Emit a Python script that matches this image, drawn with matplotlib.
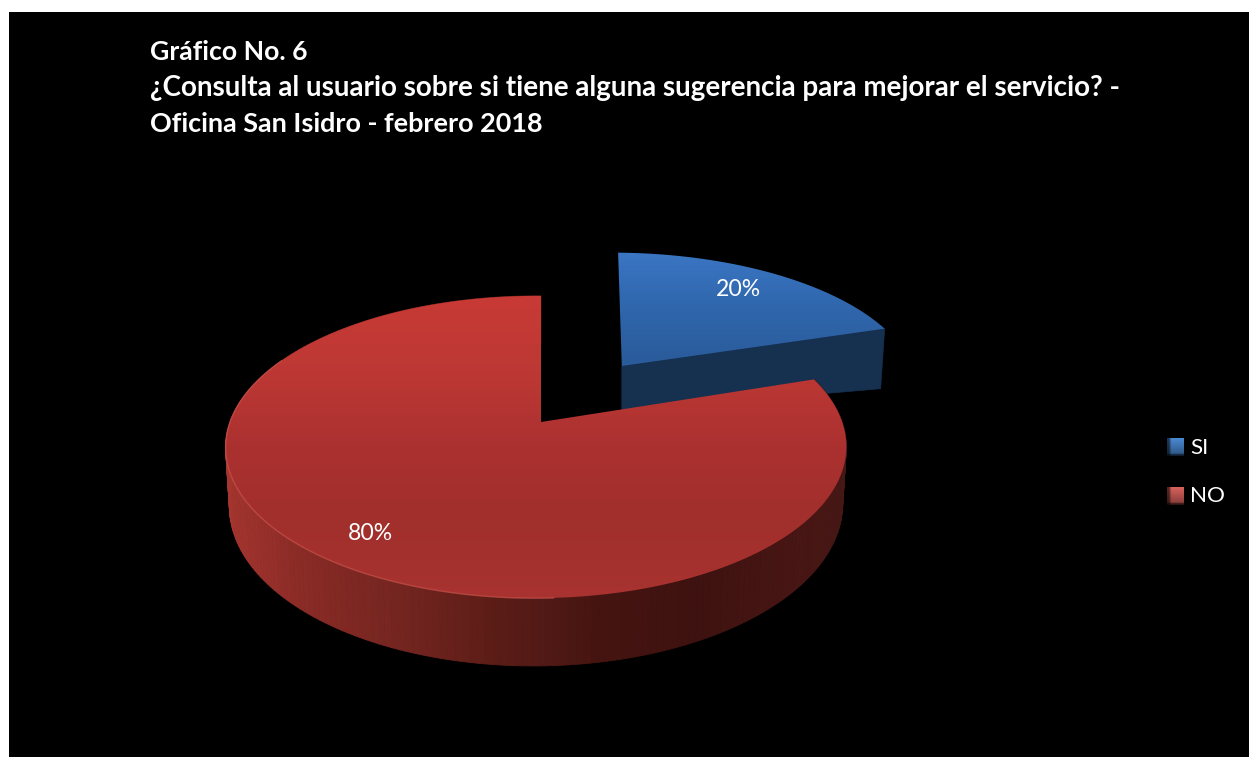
import numpy as np
import matplotlib
matplotlib.use("Agg")
import matplotlib.pyplot as plt
from matplotlib.colors import LinearSegmentedColormap, to_rgb
from matplotlib.patches import Polygon, Rectangle

categories = ["SI", "NO"]
shares = [20, 80]
title_lines = [
    "Gráfico No. 6",
    "¿Consulta al usuario sobre si tiene alguna sugerencia para mejorar el servicio? -",
    "Oficina San Isidro - febrero 2018",
]

plt.rcParams["font.family"] = ["Lato", "DejaVu Sans"]

W, H = 1249, 757
fig = plt.figure(figsize=(W / 100, H / 100), dpi=100, facecolor="white")
ax = fig.add_axes([0, 0, 1, 1])
ax.set_xlim(0, W)
ax.set_ylim(H, 0)
ax.axis("off")
ax.add_patch(Rectangle((9, 12), W, H, facecolor="black", edgecolor="none", zorder=0))

# Perspective camera for the disc: plane point (px, py), py grows away from the viewer.
APEX_X, APEX_Y = 541.0, 422.0
SCALE_X, SCALE_Y = 306.0, 147.0
TILT_Y, TILT_X = 0.1656, 0.016
THICKNESS = 56.5
EXPLODE = 0.5


def project(px, py):
    w = 1 + TILT_Y * py + TILT_X * px
    return APEX_X + SCALE_X * px / w, APEX_Y - SCALE_Y * py / w


def project_base(px, py):
    # Lower face of the disc, with a slight convergence of the vertical edges.
    w = 1 + TILT_Y * py + TILT_X * px
    x, y = project(px, py)
    return APEX_X + (x - APEX_X) * 0.988, y + THICKNESS / w


def detached_view(x, y):
    # The pulled-out slice sits closer to the camera's side, so it is sheared and widened.
    xs = x - 3 - 0.0714 * (y - 365) + 0.0375 * (x - 625)
    ys = y + 0.018 * (y - 365) - 0.5
    return xs, ys


def wedge_outline(theta0, theta1, dx=0.0, dy=0.0, n=240):
    th = np.radians(np.linspace(theta0, theta1, n))
    px = np.r_[dx, dx + np.sin(th)]
    py = np.r_[dy, dy + np.cos(th)]
    return px, py


def gradient_fill(verts, y0, y1, stops, zorder):
    cmap = LinearSegmentedColormap.from_list("g", stops)
    img = ax.imshow(np.linspace(0, 1, 256)[:, None], cmap=cmap, vmin=0, vmax=1,
                    extent=(0, W, y1, y0), aspect="auto", zorder=zorder,
                    interpolation="bilinear")
    patch = Polygon(verts, closed=True, transform=ax.transData, facecolor="none",
                    edgecolor="none")
    ax.add_patch(patch)
    img.set_clip_path(patch)
    ax.set_xlim(0, W)
    ax.set_ylim(H, 0)


def side_face(px, py, colour_at, zorder):
    # The rim is split into narrow quads so its shade can change along the arc.
    tx, ty = project(px, py)
    bx, by = project_base(px, py)
    for i in range(len(px) - 1):
        quad = [(tx[i], ty[i]), (tx[i + 1], ty[i + 1]), (bx[i + 1], by[i + 1]), (bx[i], by[i])]
        c = colour_at(0.5 * (tx[i] + tx[i + 1]))
        ax.add_patch(Polygon(quad, closed=True, facecolor=c, edgecolor=c, linewidth=0.6,
                             zorder=zorder))


angles = np.cumsum([0] + [360 * s / sum(shares) for s in shares])

# Detached SI slice, pulled along its bisector.
mid = np.radians((angles[0] + angles[1]) / 2)
ox, oy = EXPLODE * np.sin(mid), EXPLODE * np.cos(mid)
blue_px, blue_py = wedge_outline(angles[0], angles[1], ox, oy)
bx0, by0 = detached_view(*project(blue_px, blue_py))
apex_pt = np.array([bx0[0], by0[0]])
end_pt = np.array([bx0[-1], by0[-1]])
# Visible cut face of the slice: it gets deeper toward the rim end.
cut = [tuple(apex_pt), tuple(end_pt), (end_pt[0] - 4, end_pt[1] + 60), (apex_pt[0], apex_pt[1] + 45)]
ax.add_patch(Polygon(cut, closed=True, facecolor="#16304f", edgecolor="#16304f", linewidth=0.5,
                     zorder=2))
gradient_fill(np.c_[bx0, by0], by0.min(), by0.max(),
              ["#3b76c4", "#2f66ac", "#2a5b9a"], zorder=3)

# NO slice: rim first, then the top face over it.
red_px, red_py = wedge_outline(angles[1], angles[2])
x_stops = [225, 300, 400, 500, 540, 600, 700, 800, 850]
red_side = ["#a5352f", "#8a2b26", "#742520", "#5a1c16", "#521a16", "#451410", "#3e1210",
            "#481614", "#451815"]
rgb = np.array([to_rgb(c) for c in red_side])


def red_colour(x):
    return tuple(np.interp(x, x_stops, rgb[:, k]) for k in range(3))


side_face(red_px[1:], red_py[1:], red_colour, zorder=4)
rx0, ry0 = project(red_px, red_py)
gradient_fill(np.c_[rx0, ry0], ry0.min(), ry0.max(),
              ["#c83a35", "#bd3834", "#ab3130", "#a12f2b", "#a83330"], zorder=5)

# Soft highlight where the left half of the rim meets the top face (the apex is left out).
rim_x, rim_y = rx0[1:], ry0[1:]
left_rim = (red_px[1:] < 0.05) & (red_py[1:] < 0.45)
ax.plot(rim_x[left_rim], rim_y[left_rim], color="#c9524c", linewidth=1.0, alpha=0.7, zorder=6)

# Value labels on the slices.
ax.text(738.5, 290, f"{shares[0]}%", color="white", fontsize=16.6, ha="center", va="center", zorder=8)
ax.text(370, 534, f"{shares[1]}%", color="white", fontsize=16.6, ha="center", va="center", zorder=8)

# Title block, placed by baseline.
for line, y, size in zip(title_lines, [60, 96, 132], [19.2, 20.0, 19.45]):
    ax.text(150, y, line, color="white", fontsize=size, fontweight="bold",
            ha="left", va="baseline", zorder=8)

# Legend keys: bevelled squares, bright in the upper middle and dark toward the edges.
legend_y = [447, 496]
legend_text_y = [448, 496]
legend_fill = ["#4a8ad4", "#d8625c"]
yy, xx = np.mgrid[0:1:32j, 0:1:32j]
bevel = (0.6 + 0.4 * (1 - yy)) * np.clip(xx * 4, 0.4, 1) * np.clip((1 - yy) * 7, 0.35, 1)
for name, y, ty, colour in zip(categories, legend_y, legend_text_y, legend_fill):
    key = bevel[..., None] * np.array(to_rgb(colour))
    ax.imshow(key, extent=(1167, 1184, y + 9, y - 9), aspect="auto", zorder=7,
              interpolation="bilinear")
    ax.text(1190, ty, name, color="white", fontsize=16.2, ha="left", va="center", zorder=8)
ax.set_xlim(0, W)
ax.set_ylim(H, 0)

fig.savefig("out.png", dpi=100, facecolor="white")
